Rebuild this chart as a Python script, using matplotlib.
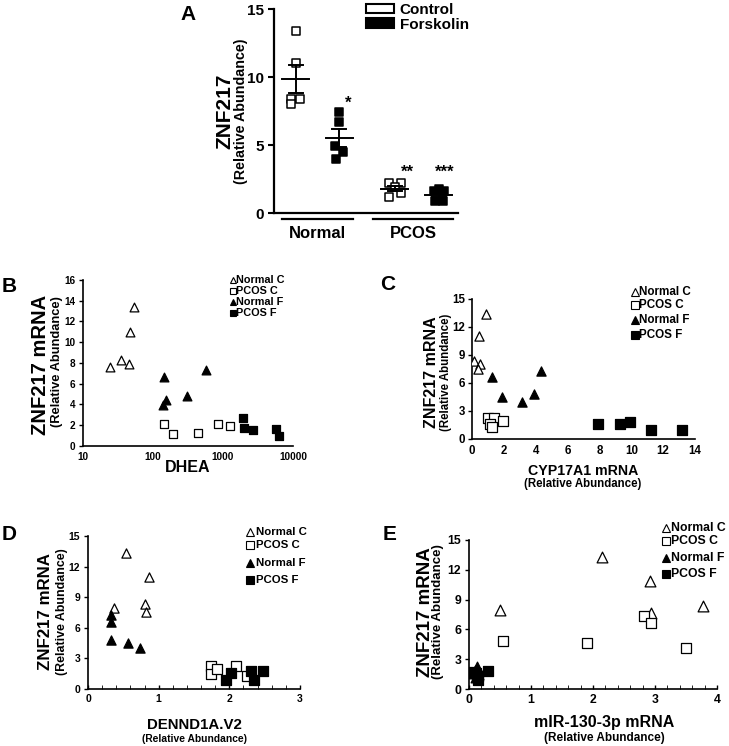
import matplotlib
matplotlib.use("Agg")
import matplotlib.pyplot as plt
import matplotlib.transforms as mtransforms
import matplotlib.ticker as mticker
from matplotlib.patches import Rectangle
from matplotlib.lines import Line2D
import numpy as np

plt.rcParams['font.family'] = ['Liberation Sans', 'DejaVu Sans']
plt.rcParams['font.weight'] = 'bold'

# ---------------- Data ----------------
# Panel A
a_groups = ["Normal", "PCOS"]
a_series = ["Control", "Forskolin"]
a_normal_control = [13.4, 11.0, 8.4, 8.0, 8.4]
a_normal_forsk = [7.4, 6.7, 4.9, 4.5, 4.0]
a_pcos_control = [2.2, 2.2, 1.9, 1.2, 1.5]
a_pcos_forsk = [1.6, 1.8, 1.6, 0.9, 0.9]
a_stars = ["", "*", "**", "***"]
a_star_y = [0, 8.1, 3.0, 3.0]

# Panel B (DHEA)
b_nc_x = [24.6, 35.3, 44.9, 46.4, 53.0]
b_nc_y = [7.6, 8.3, 7.95, 11.0, 13.4]
b_pc_x = [145, 193, 434, 839, 1274]
b_pc_y = [2.16, 1.19, 1.26, 2.16, 1.9]
b_nf_x = [145, 137, 155, 306, 572]
b_nf_y = [6.66, 3.96, 4.48, 4.83, 7.37]
b_pf_x = [1910, 1973, 2683, 5780, 6310]
b_pf_y = [2.7, 1.77, 1.55, 1.6, 0.97]

# Panel C (CYP17A1)
c_nc_x = [0.1, 0.52, 0.38, 0.45, 0.88]
c_nc_y = [8.4, 8.0, 7.5, 11.0, 13.4]
c_pc_x = [1.0, 1.36, 1.15, 1.25, 1.92]
c_pc_y = [2.25, 2.29, 1.64, 1.32, 1.93]
c_nf_x = [1.25, 1.86, 3.13, 3.87, 4.35]
c_nf_y = [6.68, 4.46, 3.96, 4.82, 7.32]
c_pf_x = [7.9, 9.3, 9.95, 11.25, 13.2]
c_pf_y = [1.64, 1.6, 1.79, 0.96, 0.93]

# Panel D (DENND1A.V2)
d_nc_x = [0.54, 0.87, 0.37, 0.80, 0.82]
d_nc_y = [13.34, 10.99, 7.99, 8.38, 7.56]
d_pc_x = [1.74, 1.74, 1.83, 2.10, 2.25]
d_pc_y = [2.25, 1.47, 1.92, 2.25, 1.27]
d_nf_x = [0.33, 0.33, 0.33, 0.56, 0.73]
d_nf_y = [7.24, 6.59, 4.79, 4.47, 3.98]
d_pf_x = [1.95, 2.02, 2.31, 2.35, 2.47]
d_pf_y = [0.88, 1.53, 1.73, 0.88, 1.76]

# Panel E (miR-130-3p)
e_nc_x = [0.5, 2.14, 2.92, 2.93, 3.77]
e_nc_y = [7.95, 13.3, 10.9, 7.68, 8.36]
e_pc_x = [0.55, 1.9, 2.83, 2.93, 3.5]
e_pc_y = [4.87, 4.6, 7.35, 6.68, 4.09]
e_nf_x = [0.13, 0.10, 0.15, 0.12, 0.08]
e_nf_y = [2.2, 1.8, 1.5, 1.2, 1.6]
e_pf_x = [0.04, 0.12, 0.14, 0.31, 0.15]
e_pf_y = [1.74, 1.6, 0.9, 1.84, 1.3]

legend_labels = ["Normal C", "PCOS C", "Normal F", "PCOS F"]

W, H = 729, 746
fig = plt.figure(figsize=(W / 100, H / 100), dpi=100)


def ax_px(left, right, top, bottom):
    return fig.add_axes([left / W, 1 - bottom / H, (right - left) / W, (bottom - top) / H])


def ftext(x, y, s, **kw):
    fig.text(x / W, 1 - y / H, s, fontweight='bold', **kw)


# ---------------- Panel A ----------------
axA = ax_px(274, 458, 9, 213)
pos = [1, 2, 3.27, 4.28]
a_data = [a_normal_control, a_normal_forsk, a_pcos_control, a_pcos_forsk]
a_fill = ['white', 'black', 'white', 'black']
a_offsets = [
    [0, 0, -0.47, -0.47, 0.47],
    [0, 0, -0.47, 0.42, -0.4],
    [-0.6, 0.6, 0, -0.6, 0.6],
    [-0.55, 0, 0.55, -0.4, 0.4],
]
a_star_dx = [0, 0.2, 0.3, 0.14]
for p, vals, fc, offs, st, sy, sdx in zip(pos, a_data, a_fill, a_offsets, a_stars,
                                          a_star_y, a_star_dx):
    xs = p + np.array(offs) * 0.22
    axA.scatter(xs, vals, marker='s', s=26, facecolor=fc, edgecolor='black',
                linewidth=1.1, zorder=3)
    m = np.mean(vals)
    sem = np.std(vals, ddof=1) / np.sqrt(len(vals))
    axA.plot([p - 0.31, p + 0.31], [m, m], color='black', lw=1.4, zorder=4)
    axA.plot([p - 0.16, p + 0.16], [m + sem, m + sem], color='black', lw=1.4, zorder=4)
    axA.plot([p - 0.16, p + 0.16], [m - sem, m - sem], color='black', lw=1.4, zorder=4)
    axA.plot([p, p], [m - sem, m + sem], color='black', lw=1.4, zorder=4)
    if st:
        axA.text(p + sdx, sy, st, ha='center', va='center', fontsize=12,
                 fontweight='bold')
axA.set_xlim(0.5, 4.72)
axA.set_ylim(0, 15)
axA.set_yticks([0, 5, 10, 15])
axA.tick_params(axis='y', labelsize=11, width=1.5, length=4)
for lab in axA.get_yticklabels():
    lab.set_fontweight('bold')
axA.set_xticks([])
for s in ['top', 'right']:
    axA.spines[s].set_visible(False)
axA.spines['left'].set_linewidth(1.6)
axA.spines['bottom'].set_linewidth(1.6)
trans = mtransforms.blended_transform_factory(axA.transData, axA.transAxes)
for (x0, x1), g in zip([(0.68, 2.31), (2.77, 4.61)], a_groups):
    axA.plot([x0, x1], [-0.03, -0.03], transform=trans, color='black', lw=1.6,
             clip_on=False)
    axA.text((x0 + x1) / 2, -0.065, g, transform=trans, ha='center', va='top',
             fontsize=12, fontweight='bold')
axA.legend(handles=[Rectangle((0, 0), 1, 1, facecolor='white', edgecolor='black', lw=1.5),
                    Rectangle((0, 0), 1, 1, facecolor='black', edgecolor='black', lw=1.5)],
           labels=a_series, loc='upper left', bbox_to_anchor=(0.5, 1.03), frameon=False,
           prop={'weight': 'bold', 'size': 11}, handlelength=1.8, handleheight=0.6,
           handletextpad=0.4, labelspacing=0.05, borderaxespad=0, borderpad=0)
ftext(225, 111, "ZNF217", rotation=90, ha='center', va='center', fontsize=15)
ftext(241, 111, "(Relative Abundance)", rotation=90, ha='center', va='center',
      fontsize=10.3)


# ---------------- Scatter panels ----------------
def scatter_panel(ax, nc, pc, nf, pf, ms=38):
    ax.scatter(*nc, marker='^', s=ms, facecolor='white', edgecolor='black', lw=0.9, zorder=3)
    ax.scatter(*pc, marker='s', s=ms, facecolor='white', edgecolor='black', lw=0.9, zorder=3)
    ax.scatter(*nf, marker='^', s=ms, facecolor='black', edgecolor='black', lw=0.9, zorder=3)
    ax.scatter(*pf, marker='s', s=ms, facecolor='black', edgecolor='black', lw=0.9, zorder=3)
    for s in ['top', 'right']:
        ax.spines[s].set_visible(False)
    ax.spines['left'].set_linewidth(1.2)
    ax.spines['bottom'].set_linewidth(1.2)


def style_ticks(ax, fs):
    ax.tick_params(labelsize=fs, width=1)
    for lab in ax.get_xticklabels() + ax.get_yticklabels():
        lab.set_fontweight('bold')


def legend_px(xm, xt, ys, fs, ms):
    styles = [('^', 'white'), ('s', 'white'), ('^', 'black'), ('s', 'black')]
    for (mk, fc), y, lab in zip(styles, ys, legend_labels):
        fig.add_artist(Line2D([xm / W], [1 - y / H], transform=fig.transFigure, ls='',
                              marker=mk, mfc=fc, mec='black', ms=ms, mew=0.8))
        ftext(xt, y, lab, ha='left', va='center', fontsize=fs)


# Panel B
axB = ax_px(83, 293, 280, 446)
scatter_panel(axB, (b_nc_x, b_nc_y), (b_pc_x, b_pc_y), (b_nf_x, b_nf_y), (b_pf_x, b_pf_y), ms=40)
axB.set_xscale('log')
axB.set_xlim(10, 10000)
axB.set_ylim(0, 16)
axB.set_yticks(range(0, 17, 2))
axB.set_xticks([10, 100, 1000, 10000])
axB.set_xticklabels(['10', '100', '1000', '10000'])
axB.xaxis.set_minor_locator(mticker.NullLocator())
axB.tick_params(axis='x', length=0, pad=4)
axB.tick_params(axis='y', length=3, pad=2.5)
style_ticks(axB, 7.2)
legend_px(232.5, 236, [280, 291, 302, 313], 7.8, 5)
ftext(41, 365, "ZNF217 mRNA", rotation=90, ha='center', va='center', fontsize=14.5)
ftext(57, 362, "(Relative Abundance)", rotation=90, ha='center', va='center', fontsize=9.3)
ftext(188, 467, "DHEA", ha='center', va='center', fontsize=11.5)

# Panel C
axC = ax_px(472, 695, 299, 439)
scatter_panel(axC, (c_nc_x, c_nc_y), (c_pc_x, c_pc_y), (c_nf_x, c_nf_y), (c_pf_x, c_pf_y), ms=44)
axC.set_xlim(0, 14)
axC.set_ylim(0, 15)
axC.set_xticks(range(0, 15, 2))
axC.set_yticks(range(0, 16, 3))
axC.tick_params(axis='x', length=0, pad=4)
axC.tick_params(axis='y', length=3, pad=2)
style_ticks(axC, 8.3)
legend_px(634.5, 639, [292, 305, 320, 335], 8.4, 5.5)
ftext(432, 372, "ZNF217 mRNA", rotation=90, ha='center', va='center', fontsize=11.5)
ftext(446, 372, "(Relative Abundance)", rotation=90, ha='center', va='center', fontsize=8.3)
ftext(583, 471, "CYP17A1 mRNA", ha='center', va='center', fontsize=10.2)
ftext(583, 484, "(Relative Abundance)", ha='center', va='center', fontsize=8.3)

# Panel D
axD = ax_px(88, 300, 536, 689)
scatter_panel(axD, (d_nc_x, d_nc_y), (d_pc_x, d_pc_y), (d_nf_x, d_nf_y), (d_pf_x, d_pf_y), ms=44)
axD.set_xlim(0, 3)
axD.set_ylim(0, 15)
axD.set_xticks([0, 1, 2, 3])
axD.set_yticks(range(0, 16, 3))
axD.xaxis.set_minor_locator(mticker.MultipleLocator(0.2))
axD.tick_params(axis='x', which='both', direction='in', length=3)
axD.tick_params(axis='y', length=3, pad=2.5)
style_ticks(axD, 7.5)
legend_px(250, 256, [532, 545, 563, 580], 8.2, 5.5)
ftext(46, 612, "ZNF217 mRNA", rotation=90, ha='center', va='center', fontsize=12.2)
ftext(62, 612, "(Relative Abundance)", rotation=90, ha='center', va='center', fontsize=8.9)
ftext(194, 725, "DENND1A.V2", ha='center', va='center', fontsize=10.8)
ftext(194, 739, "(Relative Abundance)", ha='center', va='center', fontsize=7.4)

# Panel E
axE = ax_px(469, 717, 540, 689)
scatter_panel(axE, (e_nc_x, e_nc_y), (e_pc_x, e_pc_y), (e_nf_x, e_nf_y), (e_pf_x, e_pf_y), ms=60)
axE.set_xlim(0, 4)
axE.set_ylim(0, 15)
axE.set_xticks([0, 1, 2, 3, 4])
axE.set_yticks(range(0, 16, 3))
axE.xaxis.set_minor_locator(mticker.MultipleLocator(0.2))
axE.tick_params(axis='x', which='both', direction='in', length=3)
axE.tick_params(axis='y', length=3, pad=2.5)
style_ticks(axE, 8.8)
legend_px(666, 671, [528, 541, 558, 574], 8.8, 5.5)
ftext(425, 612, "ZNF217 mRNA", rotation=90, ha='center', va='center', fontsize=13.5)
ftext(438, 612, "(Relative Abundance)", rotation=90, ha='center', va='center', fontsize=9.5)
ftext(604, 723, "mIR-130-3p mRNA", ha='center', va='center', fontsize=11.5)
ftext(604, 738, "(Relative Abundance)", ha='center', va='center', fontsize=8.5)

# Panel letters
for (x, y, s) in [(188, 14, "A"), (9, 286, "B"), (388, 285, "C"), (9, 535, "D"), (390, 535, "E")]:
    ftext(x, y, s, ha='center', va='center', fontsize=15)

fig.savefig("out.png", dpi=100)
